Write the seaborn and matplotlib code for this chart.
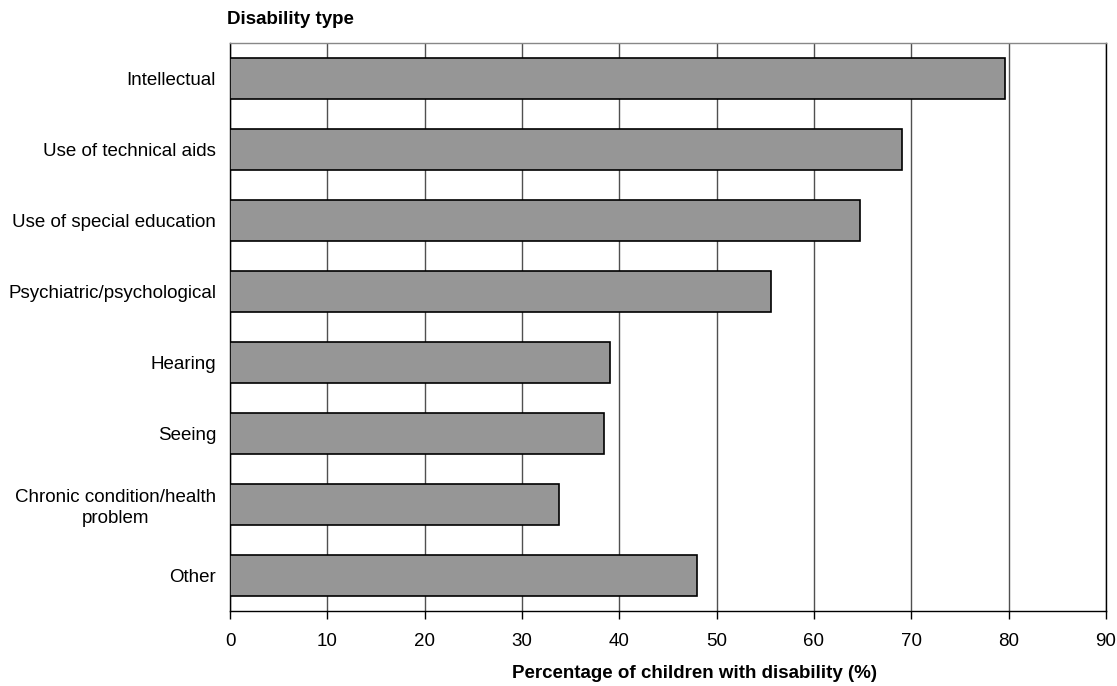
import matplotlib
matplotlib.use("Agg")
import matplotlib.pyplot as plt  # plotting
import pandas as pd
import seaborn as sns  # plotting

# values
categories = [
    "Intellectual",
    "Use of technical aids",
    "Use of special education",
    "Psychiatric/psychological",
    "Hearing",
    "Seeing",
    "Chronic condition/health\nproblem",
    "Other",
]
percentages = [79.6, 69.0, 64.7, 55.6, 39.0, 38.4, 33.8, 48.0]
x_ticks = [0, 10, 20, 30, 40, 50, 60, 70, 80, 90]

df = pd.DataFrame({"type": categories, "pct": percentages})

sns.set_style("white")
plt.rcParams["font.family"] = ["Liberation Sans", "DejaVu Sans"]
plt.rcParams["text.color"] = "black"
plt.rcParams["xtick.color"] = "black"
plt.rcParams["ytick.color"] = "black"
plt.rcParams["axes.labelcolor"] = "black"

fig, ax = plt.subplots(figsize=(11.17, 6.86), dpi=100)
fig.subplots_adjust(left=230 / 1117, right=1106 / 1117, top=1 - 43 / 686, bottom=1 - 611 / 686)

sns.barplot(data=df, x="pct", y="type", orient="h", color="#969696",
            edgecolor="black", linewidth=1.2, width=0.58, saturation=1, ax=ax, zorder=3)

ax.set_xlim(0, 90)
ax.set_xticks(x_ticks)
ax.xaxis.grid(True, color="#505050", linewidth=1)
ax.set_axisbelow(True)
ax.tick_params(axis="x", bottom=True, direction="out", length=6, width=1, labelsize=13.5, pad=10)
ax.tick_params(axis="y", left=False, length=0, labelsize=13.5, pad=10)
for lbl in ax.get_yticklabels():
    lbl.set_multialignment("center")
    lbl.set_linespacing(1.3)

for side in ["left", "bottom", "right"]:
    ax.spines[side].set_visible(True)
    ax.spines[side].set_color("black")
    ax.spines[side].set_linewidth(1)
ax.spines["top"].set_visible(True)
ax.spines["top"].set_color("#888888")
ax.spines["top"].set_linewidth(1)

ax.set_ylabel("")
ax.set_xlabel("Percentage of children with disability (%)", fontsize=13.5, fontweight="bold",
              labelpad=11, x=0.530)
fig.text(227 / 1117, 1 - 20 / 686, "Disability type", fontsize=13.5, fontweight="bold", va="center", ha="left")

plt.savefig("out.png", format="png", dpi=100)
